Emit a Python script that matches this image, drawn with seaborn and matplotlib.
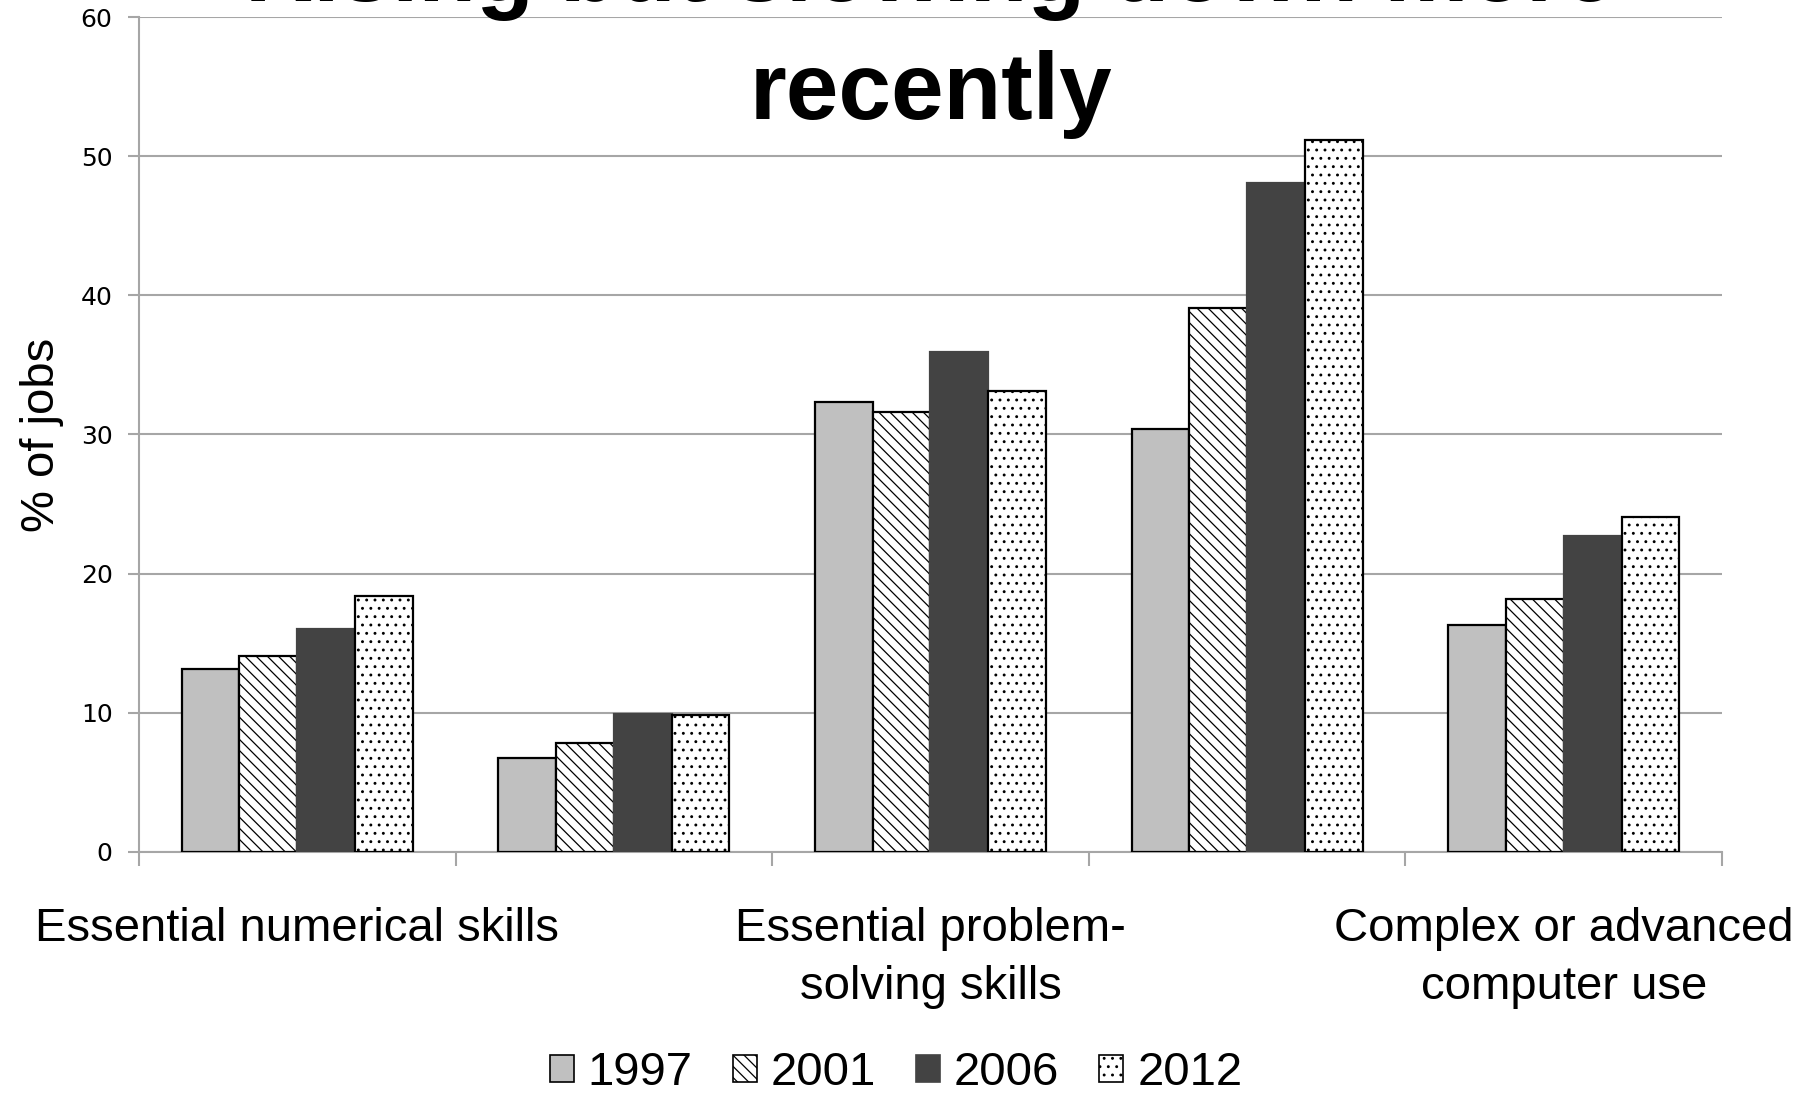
import matplotlib
matplotlib.use("Agg")
import matplotlib.pyplot as plt
from matplotlib.patches import Patch
from matplotlib.ticker import FixedLocator
import seaborn as sns
import pandas as pd

# Share of jobs requiring each skill, by survey year
skill_ids = [0, 1, 2, 3, 4]
tick_labels = [
    "Essential numerical skills",
    "",
    "Essential problem-\nsolving skills",
    "",
    "Complex or advanced\ncomputer use",
]
years = ["1997", "2001", "2006", "2012"]
values_1997 = [13.1, 6.7, 32.3, 30.4, 16.3]
values_2001 = [14.1, 7.8, 31.6, 39.1, 18.2]
values_2006 = [16.0, 9.9, 35.9, 48.1, 22.7]
values_2012 = [18.4, 9.8, 33.1, 51.2, 24.1]

colors = ["#c0c0c0", "#ffffff", "#434343", "#ffffff"]
hatches = ["", "\\\\\\", "", ".."]
edges = ["black", "black", "#434343", "black"]

rows = []
for yr, vals in zip(years, [values_1997, values_2001, values_2006, values_2012]):
    for sid, v in zip(skill_ids, vals):
        rows.append({"skill": sid, "year": yr, "pct": v})
df = pd.DataFrame(rows)

sns.set_theme(style="white")
plt.rcParams["font.family"] = ["Liberation Sans", "DejaVu Sans"]
plt.rcParams["text.color"] = "black"
plt.rcParams["axes.labelcolor"] = "black"
plt.rcParams["xtick.color"] = "black"
plt.rcParams["ytick.color"] = "black"
plt.rcParams["hatch.linewidth"] = 0.9
plt.rcParams["hatch.color"] = "#222222"

fig = plt.figure(figsize=(18.14, 10.98), dpi=100)
ax = fig.add_axes([0.0766, 0.2244, 0.8727, 0.7598])

sns.barplot(data=df, x="skill", y="pct", hue="year", hue_order=years,
            palette=dict(zip(years, colors)), width=0.73, ax=ax,
            errorbar=None, legend=False, linewidth=1.6, edgecolor="black")

for cont, h, ec in zip(ax.containers, hatches, edges):
    for bar in cont:
        bar.set_hatch(h)
        bar.set_edgecolor(ec)
        bar.set_zorder(3)

ax.set_xlim(-0.5, 4.5)
ax.set_ylim(0, 60)
ax.set_yticks(range(0, 61, 10))
ax.yaxis.grid(True, color="#a6a6a6", linewidth=1.5, zorder=0)
ax.set_axisbelow(True)
for lab in ax.get_yticklabels():
    lab.set_fontfamily("DejaVu Sans")
    lab.set_color("black")
ax.tick_params(axis="y", labelsize=18, length=8, width=1.5, color="#a6a6a6",
               labelcolor="black", left=True, pad=11)

ax.set_xticks(skill_ids)
ax.set_xticklabels(tick_labels, fontsize=34, linespacing=1.4)
ax.xaxis.set_minor_locator(FixedLocator([i - 0.5 for i in range(6)]))
ax.tick_params(axis="x", which="major", length=0, pad=40, labelcolor="black")
ax.tick_params(axis="x", which="minor", length=10, width=1.5, color="#a6a6a6",
               bottom=True)

ax.set_xlabel("")
ax.set_ylabel("% of jobs", fontsize=34, labelpad=12, color="black")

for side in ["top", "right"]:
    ax.spines[side].set_visible(False)
for side in ["left", "bottom"]:
    ax.spines[side].set_color("#a6a6a6")
    ax.spines[side].set_linewidth(1.5)

fig.text(0.513, 1 - 119 / 1098, "Rising but slowing down more\nrecently",
         ha="center", va="baseline", fontsize=68, fontweight="bold",
         linespacing=1.42, color="black", zorder=5)

handles = [Patch(facecolor=c, edgecolor=e, hatch=h, linewidth=1.2)
           for c, e, h in zip(colors, ["black", "black", "#434343", "black"], hatches)]
fig.legend(handles, years, loc="lower center", bbox_to_anchor=(0.494, -0.036),
           ncol=4, frameon=False, fontsize=34, handlelength=0.5,
           handleheight=0.5, handletextpad=0.3, columnspacing=0.85)

fig.savefig("out.png", dpi=100)
